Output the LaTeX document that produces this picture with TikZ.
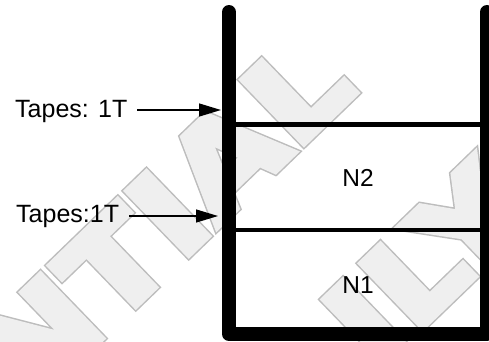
\documentclass[tikz,border=0pt]{standalone}
\usepackage{fontspec}
\setmainfont{Liberation Sans}
\newfontfamily\wmfamily{DejaVu Sans}[FakeStretch=1.155]
\usetikzlibrary{arrows.meta}
\definecolor{wmfill}{HTML}{EFEFEF}
\definecolor{wmline}{HTML}{BDBDBD}
\newcommand{\wmstroke}[2]{\special{pdf:literal direct 2 Tr #1 w 0 j 6 M}#2\special{pdf:literal direct 0 Tr 1 w 0 j 10 M}}
\tikzset{
  wall/.style={line width=14pt, line cap=round, line join=round},
  shelfthick/.style={line width=5pt},
  shelfthin/.style={line width=3.5pt},
  lbl/.style={inner sep=0pt, font=\fontsize{25}{30}\selectfont},
  cell/.style={inner sep=0pt, font=\fontsize{24.5}{29}\selectfont},
  ptr/.style={line width=1.3pt, -{Triangle[length=22pt,width=13pt]}},
  wmfont/.style={rotate=44, inner sep=0pt, font=\wmfamily\fontsize{121}{121}\bfseries\selectfont},
}
\begin{document}
\begin{tikzpicture}[x=1pt,y=-1pt]
\useasboundingbox (0,0) rectangle (489,341);
\clip (0,0) rectangle (489,341);
% watermark
\node[wmfont, anchor=base east, text=wmline] (wmA) at (359,90)
  {\wmstroke{9.4}{CONFIDENTIAL}};
\node[wmfont, anchor=base east, text=wmfill] (wmB) at (359,90)
  {\wmstroke{6.4}{CONFIDENTIAL}};
\node[wmfont, anchor=base west, text=wmline] (wmC) at (376,372)
  {\wmstroke{9.4}{ILY}};
\node[wmfont, anchor=base west, text=wmfill] (wmD) at (376,372)
  {\wmstroke{6.4}{ILY}};
% container
\coordinate (lt) at (229,12);
\coordinate (lb) at (229,334);
\coordinate (rb) at (487,334);
\coordinate (rt) at (487,12);
\draw[wall] (lt) -- (lb) -- (rb) -- (rt);
\coordinate (s1l) at (236,124.5);
\coordinate (s1r) at (480,124.5);
\coordinate (s2l) at (236,230);
\coordinate (s2r) at (480,230);
\draw[shelfthick] (s1l) -- (s1r);
\draw[shelfthin] (s2l) -- (s2r);
% cell labels
\node[cell] (n2) at (358,178) {N2};
\node[cell] (n1) at (358,285) {N1};
% tape labels
\node[lbl, anchor=base west] (t1) at (15,117) {Tapes: 1T};
\node[lbl, anchor=base west] (t2) at (16,222) {Tapes:1T};
\coordinate (a1) at (221,110);
\coordinate (a2) at (218,216);
\draw[ptr] ([xshift=10pt]t1.mid east |- a1) -- (a1);
\draw[ptr] ([xshift=10pt]t2.mid east |- a2) -- (a2);
\end{tikzpicture}
\end{document}
